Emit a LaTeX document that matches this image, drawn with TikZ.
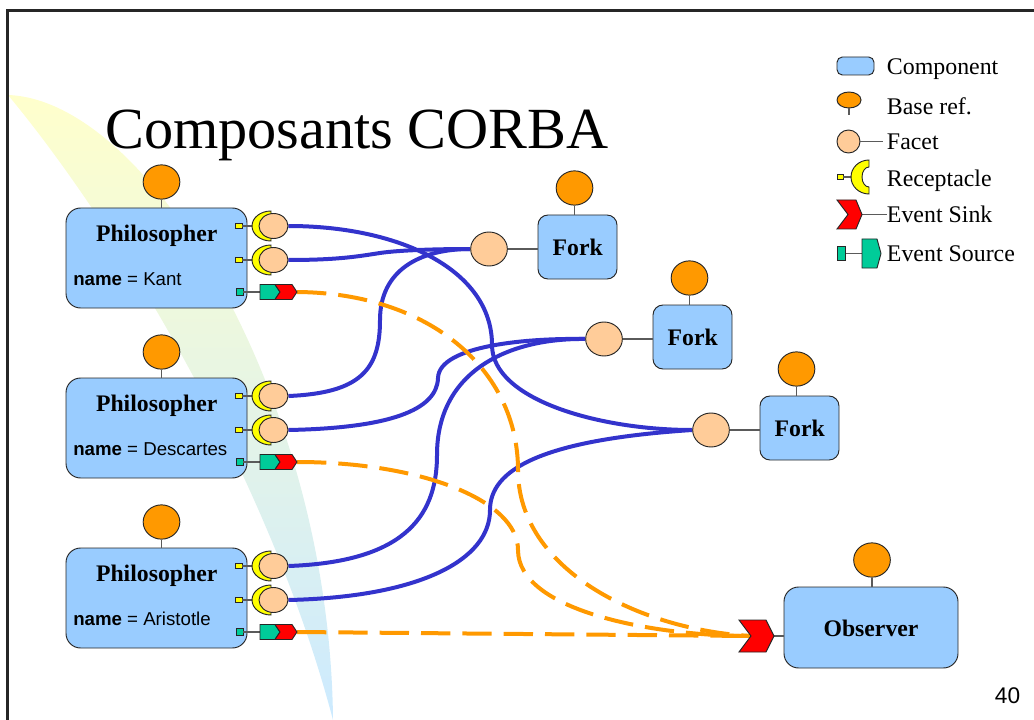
\documentclass[tikz,border=0pt]{standalone}
\usepackage{fontspec}
\setmainfont{Liberation Serif}
\setsansfont{Liberation Sans}
\usetikzlibrary{shapes.geometric}

\definecolor{compblue}{RGB}{153,204,255}
\definecolor{refor}{RGB}{255,153,0}
\definecolor{facetc}{RGB}{255,204,153}
\definecolor{recy}{RGB}{255,255,0}
\definecolor{srcg}{RGB}{0,204,153}
\definecolor{sinkr}{RGB}{255,0,0}
\definecolor{wireb}{RGB}{51,51,204}
\definecolor{evor}{RGB}{255,153,0}
\definecolor{stemg}{RGB}{90,90,90}
\definecolor{shadey}{RGB}{255,255,204}
\definecolor{shadeb}{RGB}{204,234,255}

\pgfdeclarelayer{back}
\pgfsetlayers{back,main}

\tikzset{
  outl/.style={draw=black!85, line width=0.7pt},
  comp/.style={outl, fill=compblue, rounded corners=#1, inner sep=0},
  comp/.default=11pt,
  baseref/.style={outl, ellipse, fill=refor, minimum width=27.5pt, minimum height=25.7pt, inner sep=0},
  facet/.style={outl, ellipse, fill=facetc, minimum width=21.75pt, minimum height=18.75pt, inner sep=0},
  bigfacet/.style={facet, minimum width=27.5pt, minimum height=25.5pt},
  stem/.style={draw=stemg, line width=0.9pt},
  wire/.style={draw=wireb, line width=3pt},
  evwire/.style={draw=evor, line width=3pt, dash pattern=on 22pt off 9pt},
  lbl/.style={font=\fontsize{17.8}{20}\selectfont\bfseries, inner sep=0, anchor=base},
  attr/.style={font=\sffamily\fontsize{14}{16}\selectfont, inner sep=0, anchor=base west},
  legtxt/.style={font=\fontsize{17.9}{20}\selectfont, inner sep=0, anchor=base west},
  % receptacle port: square on the component edge, crescent and facet
  recport/.pic={
    \node[outl, fill=recy, minimum width=5.25pt, minimum height=3.75pt, inner sep=0] (-sq) at (0,0) {};
    \draw[stem] (-sq.east) -- (33,0);
    \draw[outl, fill=recy] (32.5,0) ++(0pt,11.25pt)
      arc[start angle=90, end angle=270, x radius=14.25pt, y radius=11.25pt]
      -- ++(0pt,3pt)
      arc[start angle=270, end angle=90, x radius=6.75pt, y radius=8.25pt] -- cycle;
    \node[facet] (-f) at (35,0) {};
  },
  % event port: square, source pentagon and sink chevron
  evport/.pic={
    \node[outl, fill=srcg, minimum size=5.25pt, inner sep=0] (-sq) at (0,0) {};
    \draw[stem] (-sq.east) -- (20.5,0);
    \draw[outl, fill=srcg] (20.5,-7.5) -- (35.5,-7.5) -- (40.5,0) -- (35.5,7.5) -- (20.5,7.5) -- cycle;
    \draw[outl, fill=sinkr] (35.5,-7.5) -- (52.5,-7.5) -- (57.5,0) -- (52.5,7.5) -- (35.5,7.5) -- (40.5,0) -- cycle;
    \coordinate (-tip) at (57.5,0);
  }
}

\begin{document}
\begin{tikzpicture}[x=0.75pt, y=-0.75pt]
\useasboundingbox (0,0) rectangle (1034,720);

% backdrop swoosh and slide frame
\begin{pgfonlayer}{back}
  \shade[top color=shadey, bottom color=shadeb]
    (8,95) .. controls (150,100) and (330,400) .. (333,720)
    .. controls (270,480) and (120,230) .. (8,95) -- cycle;
  \draw[line width=1.7pt, black!85] (1034,10.5) -- (7.5,10.5) -- (7.5,720);
\end{pgfonlayer}

% title and page number
\node[font=\fontsize{43.7}{50}\selectfont, anchor=base west, inner sep=0] (title) at (105,149) {Composants CORBA};
\node[font=\sffamily\fontsize{17}{20}\selectfont, anchor=base, inner sep=0] (pageno) at (1007.5,703) {40};

% philosophers
\foreach \n/\dy/\who in {k/0/Kant, d/170/Descartes, a/340/Aristotle}{
  \node[comp, minimum width=135.75pt, minimum height=75pt] (\n box) at (156.5,258+\dy) {};
  \node[baseref] (\n ref) at (161.5,182+\dy) {};
  \draw[stem] (\n ref.south) -- (\n ref.south |- \n box.north);
  \node[lbl] (\n title) at (156.7,241.7+\dy) {Philosopher};
  \node[attr] (\n attr) at (73,285.7+\dy) {{\bfseries name} = \who};
  \pic (\n1) at (238.5,226+\dy) {recport};
  \pic (\n2) at (238.5,260+\dy) {recport};
  \pic (\n ev) at (239.5,292+\dy) {evport};
}

% forks
\foreach \n/\dx/\dy in {f1/0/0, f2/115/90, f3/222/181}{
  \node[comp=7.5pt, minimum width=59.25pt, minimum height=48pt] (\n box) at (577.5+\dx,247+\dy) {};
  \node[lbl] (\n txt) at (577.7+\dx,255.7+\dy) {Fork};
  \node[baseref] (\n ref) at (574.5+\dx,188+\dy) {};
  \node[bigfacet] (\n fac) at (489+\dx,249+\dy) {};
  \draw[stem] (\n ref.south) -- (\n ref.south |- \n box.north);
  \draw[stem] (\n fac.east) -- (\n fac.east -| \n box.west);
}

% observer
\node[comp, minimum width=130.5pt, minimum height=60.75pt] (obsbox) at (871,627.5) {};
\node[lbl] (obstxt) at (871,636.7) {Observer};
\node[baseref] (obsref) at (872,560) {};
\draw[stem] (obsref.south) -- (obsref.south |- obsbox.north);
\coordinate (obsin) at (751,636);
\coordinate (obssink) at (774,636);
\draw[stem] (obssink) -- (obssink -| obsbox.west);
\draw[outl, fill=sinkr] (739,620) -- (766,620) -- (obssink) -- (766,652) -- (739,652) -- (obsin) -- cycle;

% legend
\node[comp=4pt, minimum width=27.75pt, minimum height=13.5pt] (legcomp) at (855.5,66) {};
\node[legtxt] (legcompt) at (886.7,75) {Component};

\node[baseref, minimum width=18pt, minimum height=12pt] (legref) at (849,100) {};
\coordinate (legrefs) at (849,115);
\draw[stem] (legref.south) -- (legrefs);
\node[legtxt] (legreft) at (886.7,115) {Base ref.};

\coordinate (legface) at (883,141.5);
\node[facet, minimum width=17.25pt, minimum height=17.25pt] (legfac) at (848.5,141.5) {};
\draw[stem] (legfac.east) -- (legface);
\node[legtxt] (legfact) at (886.7,149.3) {Facet};

\node[outl, fill=recy, minimum width=4.5pt, minimum height=3.75pt, inner sep=0] (legrsq) at (840,177) {};
\coordinate (legrc) at (869,177);
\draw[stem] (legrsq.east) -- (852,177);
\draw[outl, fill=recy] (legrc) ++(0pt,12.75pt)
  arc[start angle=90, end angle=270, x radius=13.5pt, y radius=12.75pt]
  -- ++(0pt,5.25pt)
  arc[start angle=270, end angle=90, x radius=5.25pt, y radius=7.5pt] -- cycle;
\node[legtxt] (legrect) at (886.7,186.7) {Receptacle};

\coordinate (legsink) at (862,214.5);
\coordinate (legsinke) at (887,214.5);
\draw[stem] (legsink) -- (legsinke);
\draw[outl, fill=sinkr] (837,200) -- (856,200) -- (legsink) -- (856,229) -- (837,229) -- (848,214.5) -- cycle;
\node[legtxt] (legsinkt) at (886.7,222.7) {Event Sink};

\node[outl, fill=srcg, minimum width=6.5pt, minimum height=10pt, inner sep=0] (legssq) at (841.5,253.5) {};
\coordinate (legsrc) at (862,253.5);
\draw[stem] (legssq.east) -- (legsrc);
\draw[outl, fill=srcg] (862,239) -- (877,239) -- (881,253.5) -- (877,268) -- (862,268) -- cycle;
\node[legtxt] (legsrct) at (886.7,261) {Event Source};

% connections
\begin{pgfonlayer}{back}
  \draw[wire] (k1-f.east) .. controls (400,226) and (492,270) .. (492,345)
    .. controls (492,400) and (600,430) .. (f3fac.west);
  \draw[wire] (k2-f.east) .. controls (340,260) and (360,256) .. (380,253)
    .. controls (400,250) and (440,249) .. (f1fac.west);
  \draw[wire] (d1-f.east) .. controls (360,393) and (380,370) .. (380,320)
    .. controls (380,270) and (420,249) .. (f1fac.west);
  \draw[wire] (d2-f.east) .. controls (390,428) and (437,410) .. (438,378)
    .. controls (439,345) and (530,338) .. (f2fac.west);
  \draw[wire] (a1-f.east) .. controls (400,562) and (437,520) .. (437,455)
    .. controls (437,370) and (510,338) .. (f2fac.west);
  \draw[wire] (a2-f.east) .. controls (420,597) and (490,560) .. (490,510)
    .. controls (490,470) and (540,440) .. (f3fac.west);

  \draw[evwire] (kev-tip) .. controls (430,293) and (518,370) .. (518,470)
    .. controls (518,570) and (640,630) .. (obsin);
  \draw[evwire] (dev-tip) .. controls (420,462) and (518,500) .. (518,550)
    .. controls (518,610) and (650,636) .. (obsin);
  \draw[evwire] (aev-tip) -- (obsin);
\end{pgfonlayer}
\end{tikzpicture}
\end{document}
